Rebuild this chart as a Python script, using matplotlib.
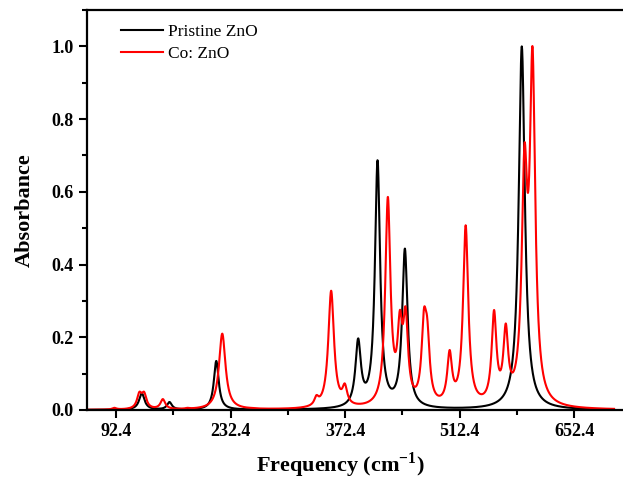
"""
IR absorbance spectra: pristine vs Co-doped ZnO (Lorentzian-broadened modes).
"""
import numpy as np
import matplotlib
matplotlib.use("Agg")
import matplotlib.pyplot as plt
from matplotlib.ticker import MultipleLocator, FixedLocator, FormatStrFormatter

# mode positions (cm^-1), observed curve heights at those positions, HWHM
PRISTINE_POS = [123.9, 157.7, 214.9, 388.3, 412.0, 445.4, 588.3]
PRISTINE_HGT = [0.046, 0.022, 0.135, 0.197, 0.687, 0.444, 1.000]
PRISTINE_HWHM = [4.0, 3.5, 3.6, 4.0, 3.8, 4.0, 4.5]

CO_POS = [90.3, 120.9, 126.7, 149.6, 179.7, 222.2, 256.5, 337.3, 355.3, 372.0,
          424.6, 439.3, 446.3, 468.7, 472.8, 500.1, 519.7, 554.4, 568.7,
          591.6, 601.4]
CO_HGT = [0.006, 0.050, 0.050, 0.030, 0.006, 0.210, 0.006, 0.041, 0.328, 0.073,
          0.586, 0.275, 0.284, 0.279, 0.252, 0.165, 0.508, 0.275, 0.238,
          0.733, 1.000]
CO_HWHM = [3.0, 3.5, 3.5, 3.5, 3.0, 4.8, 3.0, 3.0, 4.2, 3.5,
           3.8, 3.5, 3.5, 3.5, 3.5, 3.5, 3.8, 3.5, 3.5,
           4.0, 4.0]

X_RANGE = (57.0, 701.0)
XTICKS = [92.4, 232.4, 372.4, 512.4, 652.4]
LABELS = ["Pristine ZnO", "Co: ZnO"]
COLORS = ["black", "#ff0000"]


def lorentz(x, x0, g):
    return g**2 / ((x - x0)**2 + g**2)


def spectrum(x, pos, hgt, hwhm):
    """Amplitudes chosen so the summed curve passes through the read-off heights."""
    pos, hgt, hwhm = map(np.asarray, (pos, hgt, hwhm))
    m = lorentz(pos[:, None], pos[None, :], hwhm[None, :])
    amp = np.clip(np.linalg.solve(m, hgt), 0, None)
    return (amp[None, :] * lorentz(x[:, None], pos[None, :], hwhm[None, :])).sum(axis=1)


plt.rcParams["font.family"] = ["Liberation Serif", "DejaVu Serif"]
plt.rcParams["mathtext.fontset"] = "custom"
plt.rcParams["mathtext.rm"] = "Liberation Serif"
plt.rcParams["mathtext.bf"] = "Liberation Serif:bold"

fig = plt.figure(figsize=(6.23, 4.79), dpi=100)
ax = fig.add_axes([87 / 623, 69 / 479, 1 - 87 / 623, 400 / 479])

x = np.linspace(*X_RANGE, 4000)
ax.plot(x, spectrum(x, PRISTINE_POS, PRISTINE_HGT, PRISTINE_HWHM),
        color=COLORS[0], lw=1.5, label=LABELS[0])
ax.plot(x, spectrum(x, CO_POS, CO_HGT, CO_HWHM),
        color=COLORS[1], lw=1.5, label=LABELS[1])

ax.set_xlim(56.9, 712)
ax.set_ylim(0, 1.1)
ax.xaxis.set_major_locator(FixedLocator(XTICKS))
ax.xaxis.set_minor_locator(FixedLocator([t + 70 for t in XTICKS]))
ax.yaxis.set_major_locator(MultipleLocator(0.2))
ax.yaxis.set_minor_locator(MultipleLocator(0.1))
ax.xaxis.set_major_formatter(FormatStrFormatter("%.1f"))
ax.yaxis.set_major_formatter(FormatStrFormatter("%.1f"))
ax.tick_params(which="major", direction="out", length=6, width=1.5,
               labelsize=13, top=False, right=False)
ax.tick_params(which="minor", direction="out", length=3.5, width=1.5,
               top=False, right=False)
for lab in ax.get_xticklabels() + ax.get_yticklabels():
    lab.set_fontweight("bold")
for s in ("left", "bottom", "top"):
    ax.spines[s].set_linewidth(1.6)
ax.spines["right"].set_visible(False)

ax.set_xlabel(r"Frequency (cm$^{\mathbf{-1}}$)", fontsize=16, fontweight="bold")
ax.set_ylabel("Absorbance", fontsize=16, fontweight="bold")
ax.xaxis.set_label_coords((340 - 87) / 536, -0.1)
ax.yaxis.set_label_coords(-0.098, 0.5)

ax.legend(loc="upper left", frameon=False, fontsize=12.5, handlelength=2.4,
          handletextpad=0.3, labelspacing=0.35, bbox_to_anchor=(0.035, 1.005))

fig.savefig("out.png", dpi=100)
